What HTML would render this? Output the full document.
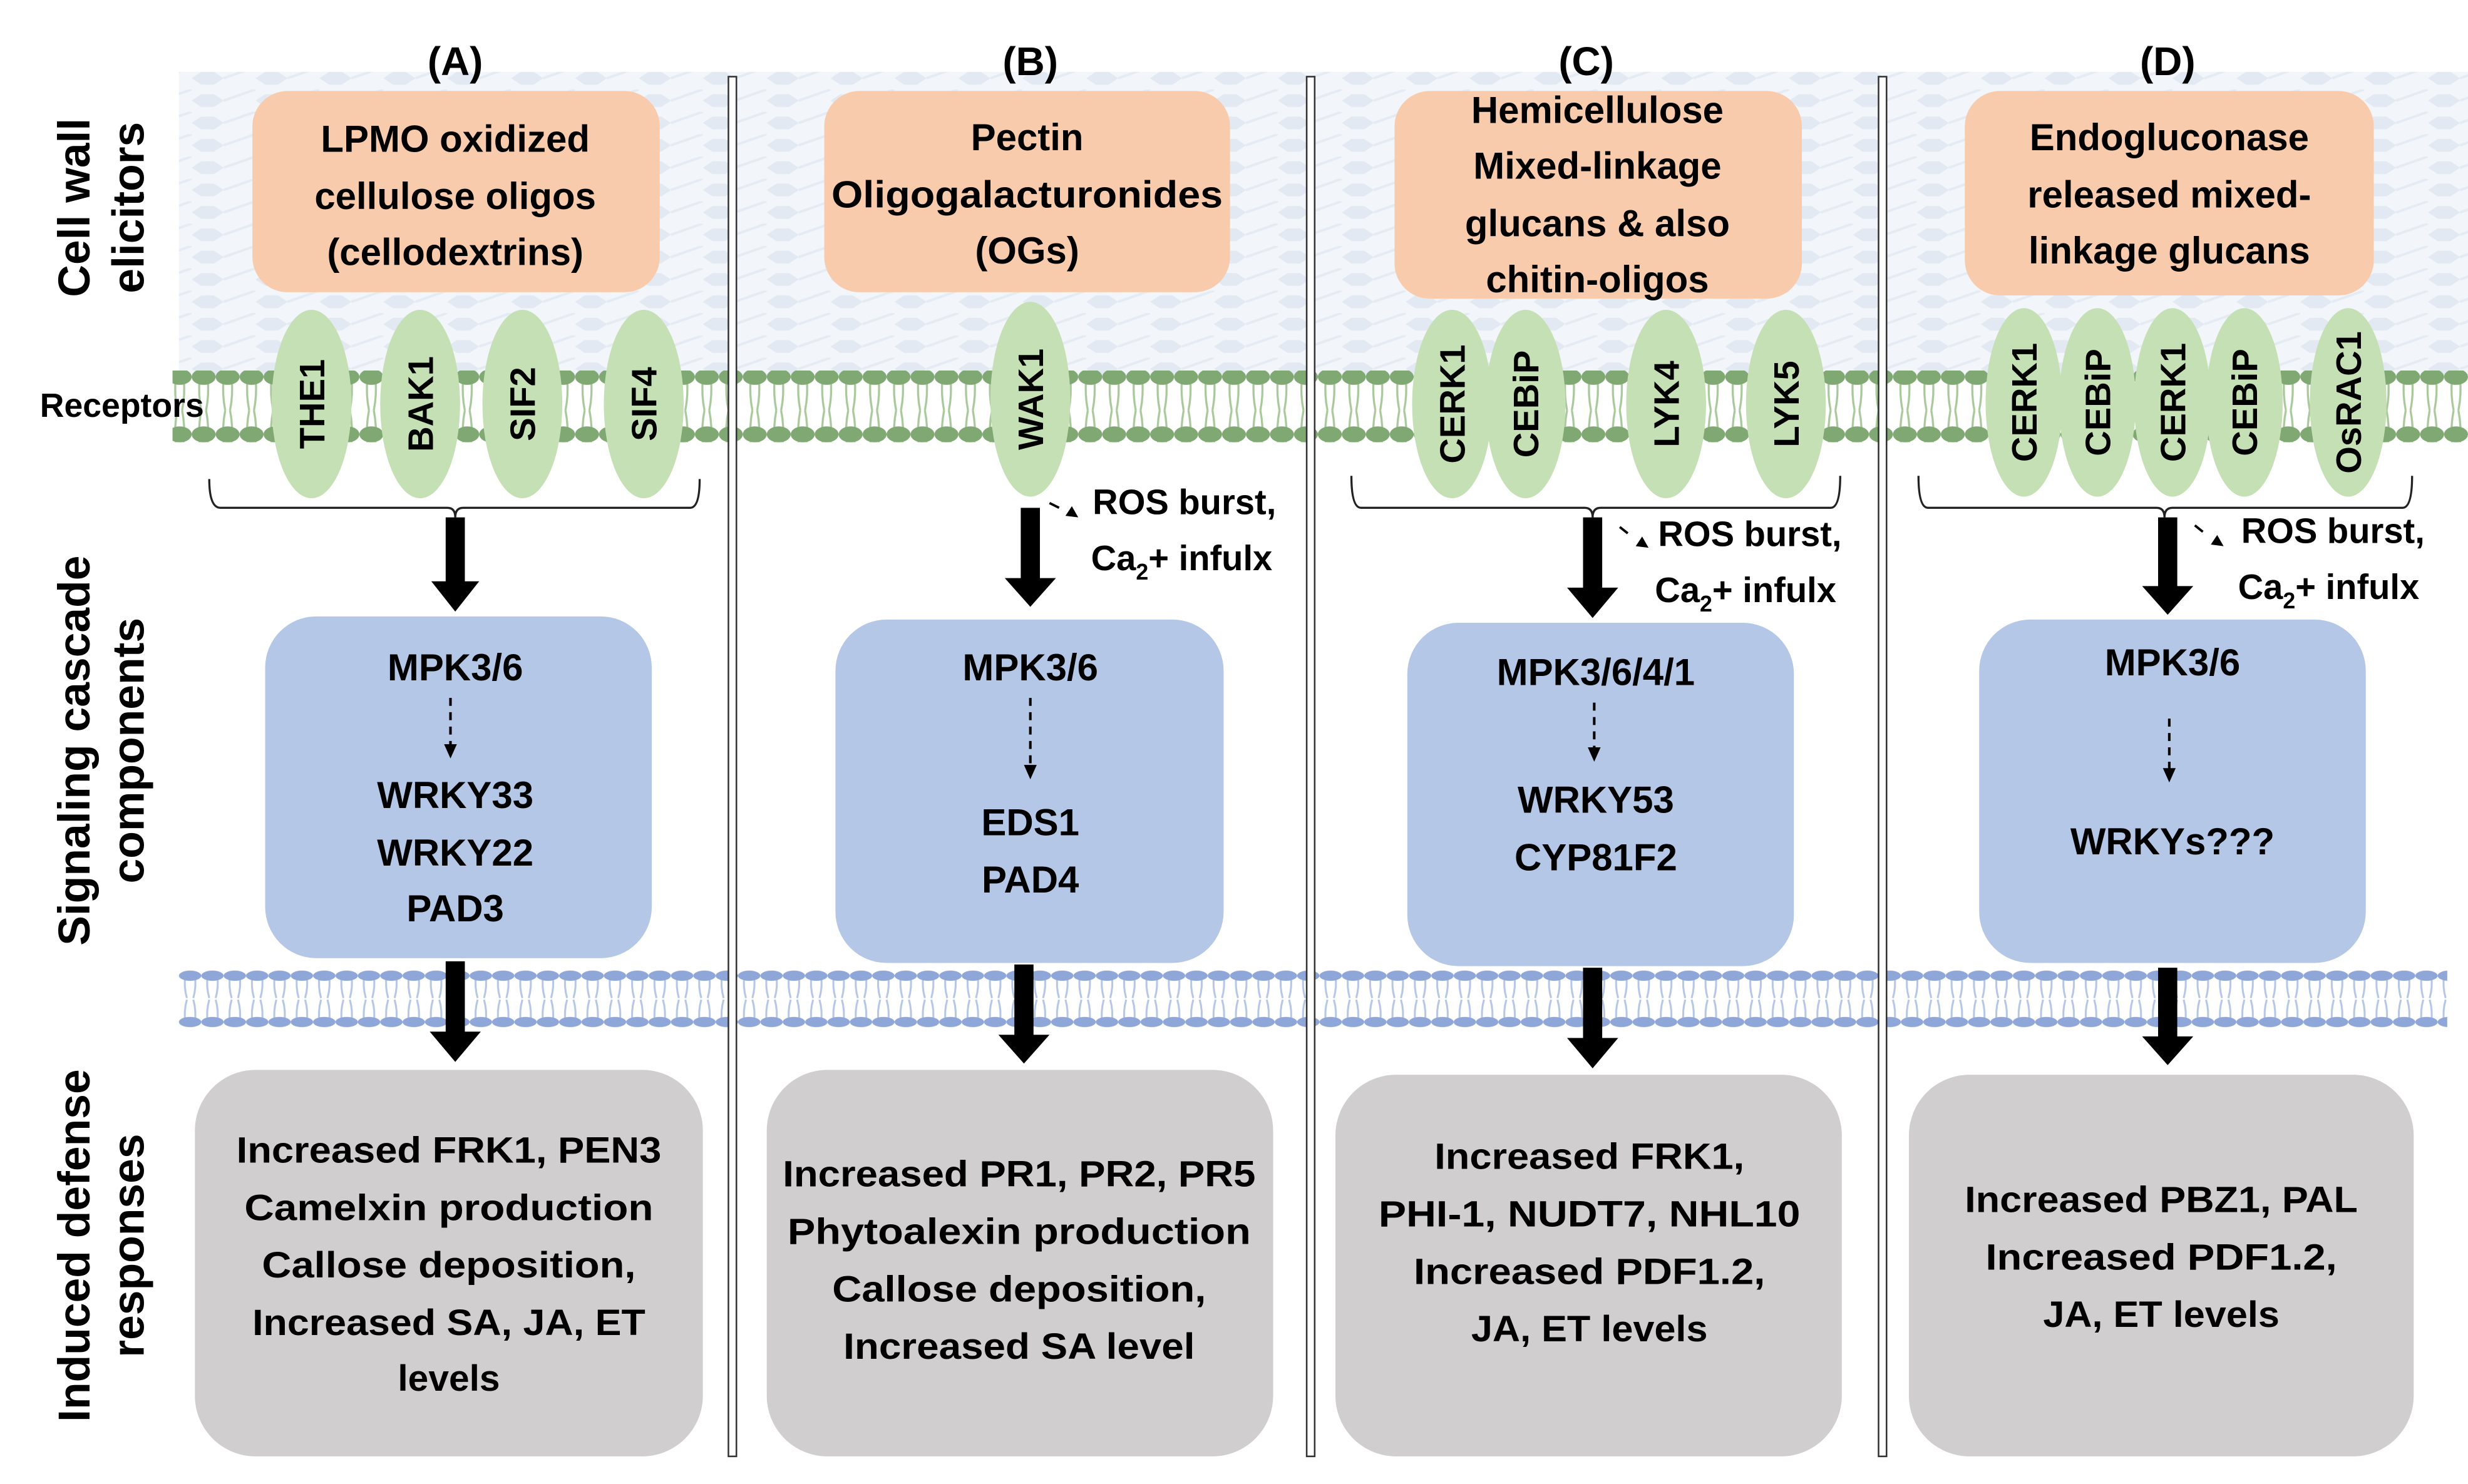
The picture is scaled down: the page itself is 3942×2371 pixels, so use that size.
<!DOCTYPE html>
<html><head><meta charset="utf-8"><style>
html,body{margin:0;padding:0;background:#fff;}
svg{display:block;}
text{font-family:"Liberation Sans",sans-serif;font-weight:bold;fill:#000;}
</style></head><body>
<svg width="3942" height="2371" viewBox="0 0 1545 929.3" preserveAspectRatio="none" xmlns="http://www.w3.org/2000/svg">
<defs>
<pattern id="wall" x="0" y="0" width="40" height="14" patternUnits="userSpaceOnUse">
<rect width="40" height="14" fill="#f2f5f9"/>
<path d="M0 7 L6 3 L14 3 L20 7 L14 11 L6 11 Z" fill="#e2e9f2"/>
<path d="M20 7 L40 0" stroke="#e4ebf3" stroke-width="1.5"/>
</pattern>
<pattern id="gmem" x="0" y="0" width="15" height="50" patternUnits="userSpaceOnUse">
<path d="M5 5 Q4 15 6 25 M10 5 Q11 15 9 25 M5 45 Q4 35 6 25 M10 45 Q11 35 9 25" stroke="#a9c99d" stroke-width="1.3" fill="none"/>
<ellipse cx="7.5" cy="4" rx="7.5" ry="5" fill="#7fa872"/>
<ellipse cx="7.5" cy="40" rx="7.5" ry="5" fill="#7fa872"/>
</pattern>
<pattern id="bmem" x="0" y="0" width="14" height="40" patternUnits="userSpaceOnUse">
<path d="M4 4 Q3 11 5 18 M10 4 Q11 11 9 18 M4 33 Q3 26 5 19 M10 33 Q11 26 9 19" stroke="#b6c6e6" stroke-width="1.2" fill="none"/>
<ellipse cx="7" cy="4" rx="7" ry="3.2" fill="#8ea6d8"/>
<ellipse cx="7" cy="33" rx="7" ry="3.2" fill="#8ea6d8"/>
</pattern>
</defs>

<rect x="112" y="45" width="1433" height="190" fill="url(#wall)"/>
<g transform="translate(0,232)"><rect x="108" y="0" width="1437" height="45" fill="url(#gmem)"/></g>
<g transform="translate(0,607)"><rect x="112" y="0" width="1420" height="38" fill="url(#bmem)"/></g>

<g fill="#fff" stroke="#333" stroke-width="1">
<rect x="456" y="48" width="5" height="864"/>
<rect x="818" y="48" width="5" height="864"/>
<rect x="1176" y="48" width="5" height="864"/>
</g>

<g font-size="25" text-anchor="middle">
<text x="285" y="47">(A)</text><text x="645" y="47">(B)</text><text x="993" y="47">(C)</text><text x="1357" y="47">(D)</text>
</g>

<g font-size="28" text-anchor="middle">
<text transform="translate(56,130) rotate(-90)">Cell wall</text>
<text transform="translate(90,130) rotate(-90)">elicitors</text>
<text transform="translate(56,470) rotate(-90)">Signaling cascade</text>
<text transform="translate(90,470) rotate(-90)">components</text>
<text transform="translate(56,780) rotate(-90)">Induced defense</text>
<text transform="translate(90,780) rotate(-90)">responses</text>
</g>
<text x="25" y="261" font-size="21">Receptors</text>

<g fill="#f8cbad">
<rect x="158" y="57" width="255" height="126" rx="22"/>
<rect x="516" y="57" width="254" height="126" rx="22"/>
<rect x="873" y="57" width="255" height="130" rx="22"/>
<rect x="1230" y="57" width="256" height="128" rx="22"/>
</g>
<g font-size="23.5" text-anchor="middle">
<text x="285" y="95">LPMO oxidized</text><text x="285" y="131">cellulose oligos</text><text x="285" y="166">(cellodextrins)</text>
<text x="643" y="94">Pectin</text><text x="643" y="130" textLength="245" lengthAdjust="spacingAndGlyphs">Oligogalacturonides</text><text x="643" y="165">(OGs)</text>
<text x="1000" y="77">Hemicellulose</text><text x="1000" y="112">Mixed-linkage</text><text x="1000" y="148">glucans &amp; also</text><text x="1000" y="183">chitin-oligos</text>
<text x="1358" y="94">Endogluconase</text><text x="1358" y="130">released mixed-</text><text x="1358" y="165">linkage glucans</text>
</g>

<g fill="#c5e0b4">
<ellipse cx="195" cy="253" rx="25" ry="59"/><ellipse cx="263" cy="253" rx="25" ry="59"/><ellipse cx="327" cy="253" rx="25" ry="59"/><ellipse cx="403" cy="253" rx="25" ry="59"/>
<ellipse cx="645" cy="250" rx="25" ry="61"/>
<ellipse cx="909" cy="253" rx="25" ry="59"/><ellipse cx="955" cy="253" rx="25" ry="59"/><ellipse cx="1043" cy="253" rx="25" ry="59"/><ellipse cx="1118" cy="253" rx="25" ry="59"/>
<ellipse cx="1267" cy="252" rx="24" ry="59"/><ellipse cx="1313" cy="252" rx="24" ry="59"/><ellipse cx="1360" cy="252" rx="24" ry="59"/><ellipse cx="1405" cy="252" rx="24" ry="59"/><ellipse cx="1470" cy="252" rx="24" ry="59"/>
</g>
<g font-size="22" text-anchor="middle">
<text transform="translate(203,253) rotate(-90)">THE1</text>
<text transform="translate(271,253) rotate(-90)">BAK1</text>
<text transform="translate(335,253) rotate(-90)">SIF2</text>
<text transform="translate(411,253) rotate(-90)">SIF4</text>
<text transform="translate(653,250) rotate(-90)">WAK1</text>
<text transform="translate(917,253) rotate(-90)">CERK1</text>
<text transform="translate(963,253) rotate(-90)">CEBiP</text>
<text transform="translate(1051,253) rotate(-90)">LYK4</text>
<text transform="translate(1126,253) rotate(-90)">LYK5</text>
<text transform="translate(1275,252) rotate(-90)">CERK1</text>
<text transform="translate(1321,252) rotate(-90)">CEBiP</text>
<text transform="translate(1368,252) rotate(-90)">CERK1</text>
<text transform="translate(1413,252) rotate(-90)">CEBiP</text>
<text transform="translate(1478,252) rotate(-90)">OsRAC1</text>
</g>

<g fill="none" stroke="#222" stroke-width="1.3">
<path d="M131 300 Q131 318 138 318 L280 318 Q285 318 285 324 Q285 318 290 318 L432 318 Q438 318 438 300"/>
<path d="M846 298 Q846 318 852 318 L992 318 Q997 318 997 324 Q997 318 1002 318 L1146 318 Q1152 318 1152 298"/>
<path d="M1201 298 Q1201 318 1207 318 L1350 318 Q1355 318 1355 324 Q1355 318 1360 318 L1504 318 Q1510 318 1510 298"/>
</g>

<g fill="#000">
<path d="M279 324 h12 v40 h9 l-15 19 l-15 -19 h9 z"/>
<path d="M639 318 h12 v44 h10 l-16 18 l-16 -18 h10 z"/>
<path d="M991 324 h12 v44 h10 l-16 19 l-16 -19 h10 z"/>
<path d="M1351 324 h12 v43 h10 l-16 18 l-16 -18 h10 z"/>
<path d="M279 602 h12 v44 h10 l-16 19 l-16 -19 h10 z"/>
<path d="M635 604 h12 v44 h10 l-16 18 l-16 -18 h10 z"/>
<path d="M991 606 h12 v44 h10 l-16 19 l-16 -19 h10 z"/>
<path d="M1351 606 h12 v43 h10 l-16 18 l-16 -18 h10 z"/>
</g>

<g stroke="#000" stroke-width="1.5" fill="none">
<path d="M657 315 l6 3"/><path d="M1014 330 l5 4"/><path d="M1374 329 l5 4"/>
</g>
<g fill="#000">
<path d="M667 323 l4 -6 l4 7 z"/><path d="M1024 342 l4 -6 l4 7 z"/><path d="M1384 341 l4 -6 l4 7 z"/>
</g>
<g font-size="22">
<text x="684" y="322">ROS burst,</text>
<text x="683" y="357">Ca<tspan font-size="14" dy="6">2</tspan><tspan dy="-6">+ infulx</tspan></text>
<text x="1038" y="342">ROS burst,</text>
<text x="1036" y="377">Ca<tspan font-size="14" dy="6">2</tspan><tspan dy="-6">+ infulx</tspan></text>
<text x="1403" y="340">ROS burst,</text>
<text x="1401" y="375">Ca<tspan font-size="14" dy="6">2</tspan><tspan dy="-6">+ infulx</tspan></text>
</g>

<g fill="#b4c7e7">
<rect x="166" y="386" width="242" height="214" rx="32"/>
<rect x="523" y="388" width="243" height="215" rx="32"/>
<rect x="881" y="390" width="242" height="215" rx="32"/>
<rect x="1239" y="388" width="242" height="215" rx="32"/>
</g>
<g font-size="23.5" text-anchor="middle">
<text x="285" y="426">MPK3/6</text><text x="285" y="506">WRKY33</text><text x="285" y="542">WRKY22</text><text x="285" y="577">PAD3</text>
<text x="645" y="426">MPK3/6</text><text x="645" y="523">EDS1</text><text x="645" y="559">PAD4</text>
<text x="999" y="429">MPK3/6/4/1</text><text x="999" y="509">WRKY53</text><text x="999" y="545">CYP81F2</text>
<text x="1360" y="423">MPK3/6</text><text x="1360" y="535">WRKYs???</text>
</g>
<g stroke="#000" stroke-width="1.6" stroke-dasharray="5 4">
<line x1="282" y1="437" x2="282" y2="467"/>
<line x1="645" y1="437" x2="645" y2="480"/>
<line x1="998" y1="440" x2="998" y2="469"/>
<line x1="1358" y1="450" x2="1358" y2="482"/>
</g>
<g fill="#000">
<path d="M278 466 l4 9 l4 -9 z"/><path d="M641 479 l4 9 l4 -9 z"/><path d="M994 468 l4 9 l4 -9 z"/><path d="M1354 481 l4 9 l4 -9 z"/>
</g>

<g fill="#d0cece">
<rect x="122" y="670" width="318" height="242" rx="38"/>
<rect x="480" y="670" width="317" height="242" rx="38"/>
<rect x="836" y="673" width="317" height="239" rx="38"/>
<rect x="1195" y="673" width="316" height="239" rx="38"/>
</g>
<g font-size="23" text-anchor="middle">
<text x="281" y="728" textLength="266" lengthAdjust="spacingAndGlyphs">Increased FRK1, PEN3</text>
<text x="281" y="764" textLength="256" lengthAdjust="spacingAndGlyphs">Camelxin production</text>
<text x="281" y="800" textLength="234" lengthAdjust="spacingAndGlyphs">Callose deposition,</text>
<text x="281" y="836" textLength="246" lengthAdjust="spacingAndGlyphs">Increased SA, JA, ET</text>
<text x="281" y="871">levels</text>
<text x="638" y="743" textLength="296" lengthAdjust="spacingAndGlyphs">Increased PR1, PR2, PR5</text>
<text x="638" y="779" textLength="290" lengthAdjust="spacingAndGlyphs">Phytoalexin production</text>
<text x="638" y="815" textLength="234" lengthAdjust="spacingAndGlyphs">Callose deposition,</text>
<text x="638" y="851" textLength="220" lengthAdjust="spacingAndGlyphs">Increased SA level</text>
<text x="995" y="732" textLength="194" lengthAdjust="spacingAndGlyphs">Increased FRK1,</text>
<text x="995" y="768" textLength="264" lengthAdjust="spacingAndGlyphs">PHI-1, NUDT7, NHL10</text>
<text x="995" y="804" textLength="220" lengthAdjust="spacingAndGlyphs">Increased PDF1.2,</text>
<text x="995" y="840" textLength="148" lengthAdjust="spacingAndGlyphs">JA, ET levels</text>
<text x="1353" y="759" textLength="246" lengthAdjust="spacingAndGlyphs">Increased PBZ1, PAL</text>
<text x="1353" y="795" textLength="220" lengthAdjust="spacingAndGlyphs">Increased PDF1.2,</text>
<text x="1353" y="831" textLength="148" lengthAdjust="spacingAndGlyphs">JA, ET levels</text>
</g>
</svg>
</body></html>
